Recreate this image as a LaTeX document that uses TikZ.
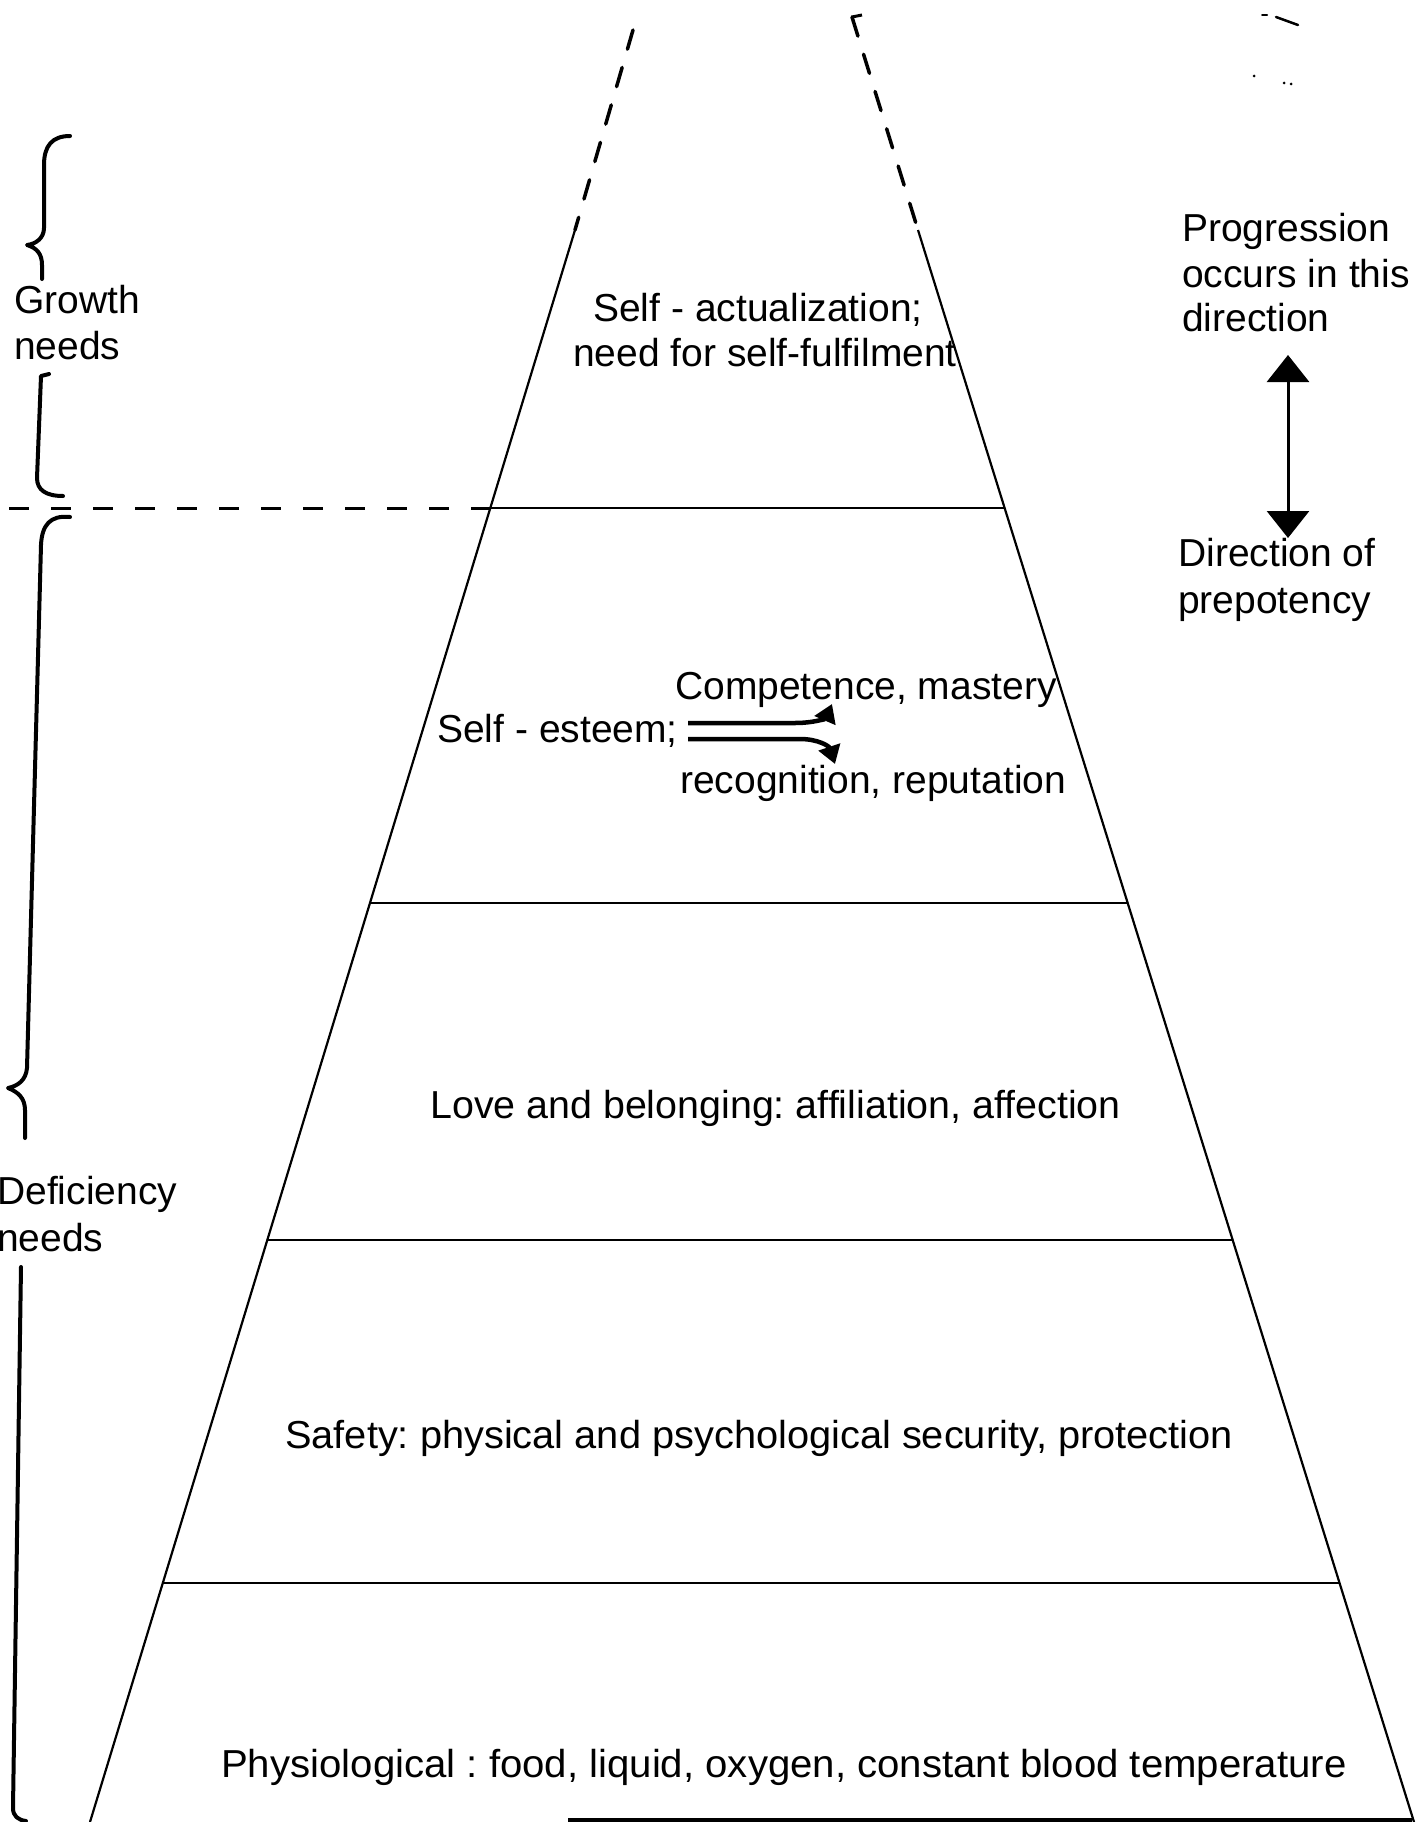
\documentclass[tikz,border=0pt]{standalone}
\usepackage{fontspec}
\usepackage{graphicx}
\setmainfont{Liberation Sans}
\usetikzlibrary{arrows.meta}
\frenchspacing
\begin{document}
\begin{tikzpicture}[x=1pt,y=-1pt,
  lbl/.style={anchor=base west, inner sep=0pt, font=\fontsize{39}{46}\selectfont\frenchspacing},
  side/.style={line width=2.2pt},
  tier/.style={line width=2.2pt},
  dashside/.style={line width=3.5pt, line cap=round, dash pattern=on 20pt off 19pt},
  dashtier/.style={line width=3pt, dash pattern=on 20pt off 22pt},
  bracestroke/.style={line width=4pt, line cap=round, line join=round},
  bigtip/.style={line width=3pt, {Triangle[width=42pt,length=27pt]}-{Triangle[width=42pt,length=27pt]}},
  smalltip/.style={line width=4.5pt, -{Triangle[width=22pt,length=18pt]}}]
\useasboundingbox (0,0) rectangle (1418,1822);

% ---- pyramid outline ----
\coordinate (Ltop) at (633,30);
\coordinate (Lmid) at (575,230);
\coordinate (Lbot) at (90,1822);
\coordinate (Rtop) at (852,17);
\coordinate (Rmid) at (918,230);
\coordinate (Rbot) at (1414,1822);
\draw[dashside] (Ltop) -- (Lmid);
\draw[dashside] (Rtop) -- (Rmid);
\draw[line width=3pt] (Rtop) -- ++(10,-2);
\draw[side] (Lmid) -- (Lbot);
\draw[side] (Rmid) -- (Rbot);

% ---- tier boundaries ----
\coordinate (t1l) at (490,508);  \coordinate (t1r) at (1005,508);
\coordinate (t2l) at (370,903);  \coordinate (t2r) at (1128,903);
\coordinate (t3l) at (267,1240); \coordinate (t3r) at (1233,1240);
\coordinate (t4l) at (163,1583); \coordinate (t4r) at (1340,1583);
\draw[tier] (t1l) -- (t1r);
\draw[tier] (t2l) -- (t2r);
\draw[tier] (t3l) -- (t3r);
\draw[tier] (t4l) -- (t4r);
\coordinate (dl) at (9,508);
\draw[dashtier] (dl) -- (t1l);

% broken base line at the foot of the page
\coordinate (b1) at (568,1820); \coordinate (b2) at (1412,1820);
\draw[line width=4pt] (b1) -- (b2);

% ---- tier labels ----
\node[lbl] (sa1) at (593,321) {Self - actualization;};
\node[lbl] (sa2) at (573,366) {need for self-fulfilment};
\node[lbl] (se)  at (437,742) {Self - esteem;};
\node[lbl] (cm)  at (675,699) {Competence, mastery};
\node[lbl] (rr)  at (680,793) {recognition, reputation};
\node[lbl] (lb)  at (430,1118) {\scalebox{1.01}[1]{Love and belonging: affiliation, affection}};
\node[lbl] (sf)  at (285,1448) {\scalebox{1.02}[1]{Safety: physical and psychological security, protection}};
\node[lbl] (ph)  at (221,1777) {\scalebox{1.03}[1]{Physiological : food, liquid, oxygen, constant blood temperature}};

% self-esteem branches
\coordinate (s1) at (688,723); \coordinate (e1) at (832,704);
\coordinate (s2) at (688,739); \coordinate (e2) at (835,764);
\draw[smalltip] (s1) -- (795,723) .. controls (815,723) and (826,718) .. (e1);
\draw[smalltip] (s2) -- (800,739) .. controls (818,739) and (829,746) .. (e2);

% ---- side labels ----
\node[lbl] (g1) at (14,313) {Growth};
\node[lbl] (g2) at (14,359) {needs};
\node[lbl] (d1) at (-3,1204) {Deficiency};
\node[lbl] (d2) at (-3,1251) {needs};
\node[lbl] (p1) at (1182,241) {Progression};
\node[lbl] (p2) at (1182,287) {occurs in this};
\node[lbl] (p3) at (1182,331) {direction};
\node[lbl] (q1) at (1178,566) {Direction of};
\node[lbl] (q2) at (1178,613) {prepotency};

% direction arrow
\coordinate (au) at (1288,355);
\coordinate (ad) at (1288,538);
\draw[bigtip] (au) -- (ad);

% ---- braces ----
\draw[bracestroke] (70,136) .. controls (52,136) and (44,146) .. (44,165) -- (44,228)
  .. controls (44,238) and (36,244) .. (27,245) .. controls (37,248) and (42,254) .. (42,265) -- (42,279);
\draw[bracestroke] (49,374) -- (41,376) -- (37,478) .. controls (37,490) and (46,496) .. (63,496);
\draw[bracestroke] (70,517) .. controls (50,515) and (42,525) .. (41,545) -- (27,1068)
  .. controls (26,1080) and (18,1086) .. (8,1088) .. controls (18,1092) and (25,1098) .. (25,1110) -- (25,1138);
\draw[bracestroke] (21,1267) -- (13,1808) .. controls (13,1816) and (18,1820) .. (26,1821);

% stray marks in the top corner
\draw[line width=2pt, line cap=round] (1262,15) -- (1267,15);
\draw[line width=2.5pt, line cap=round] (1276,17) -- (1298,25);
\fill (1254,76) circle (1.5pt);
\fill (1284,83) circle (1.5pt);
\fill (1291,84) circle (1.5pt);
\end{tikzpicture}
\end{document}
